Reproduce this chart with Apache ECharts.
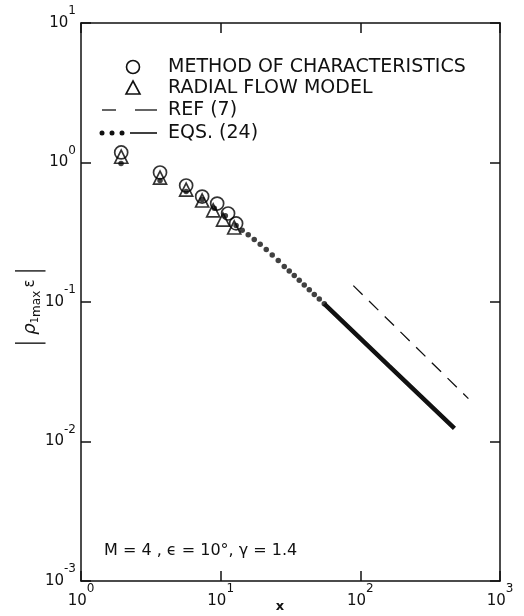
<!DOCTYPE html>
<html><head><meta charset="utf-8">
<script src="https://cdn.jsdelivr.net/npm/echarts@6/dist/echarts.min.js"></script>
<style>html,body{margin:0;padding:0;background:#fff}#c{width:524px;height:616px}</style>
</head><body><div id="c"></div>
<script>
// Method of characteristics (circles)
const circX = [1.94, 3.68, 5.66, 7.37, 9.44, 11.3, 12.9];
const circY = [1.18, 0.848, 0.684, 0.57, 0.508, 0.431, 0.366];
// Radial flow model (triangles)
const triX = [1.94, 3.68, 5.66, 7.37, 8.84, 10.4, 12.5];
const triY = [1.10, 0.78, 0.64, 0.534, 0.453, 0.39, 0.342];
// Eqs. (24) dotted part
const eqsDotX = [1.935, 3.68, 5.66, 7.37, 9.0, 10.8, 12.9, 14.26, 15.75, 17.39, 19.19, 21.2, 23.4, 25.84, 28.53, 30.98, 33.65, 36.53, 39.68, 43.1, 46.81, 50.83, 55.2];
const eqsDotY = [0.984, 0.743, 0.62, 0.543, 0.47, 0.415, 0.353, 0.327, 0.303, 0.28, 0.259, 0.238, 0.217, 0.198, 0.18, 0.167, 0.1546, 0.1431, 0.1323, 0.1225, 0.1133, 0.1049, 0.0971];
// Eqs. (24) solid part
const eqsLineX = [55.2, 161, 472];
const eqsLineY = [0.0971, 0.0347, 0.0124];
// Ref (7) dashed
const refX = [89.1, 594];
const refY = [0.131, 0.0203];
// axis ranges / ticks
const xMin = 1, xMax = 1000;
const yMin = 0.001, yMax = 10;

const zip = (a, b) => a.map((v, i) => [v, b[i]]);
const FONT = 'DejaVu Sans';
const supFmt = v => '{b|10}{s|' + Math.round(Math.log10(v)) + '}';
const richLbl = {
  b: {fontSize: 15, fontFamily: FONT, color: '#111'},
  s: {fontSize: 12, fontFamily: FONT, color: '#111', padding: [0, 0, 24, 0]}
};
const axCommon = {
  type: 'log', logBase: 10,
  axisLine: {show: true, lineStyle: {color: '#111', width: 1.5}},
  axisTick: {show: true, inside: true, length: 10, lineStyle: {color: '#111', width: 1.5}},
  minorTick: {show: false},
  splitLine: {show: false}
};

const chart = echarts.init(document.getElementById('c'), null, {renderer: 'canvas'});
chart.setOption({
  animation: false,
  backgroundColor: '#fff',
  textStyle: {fontFamily: FONT},
  grid: {left: 81, right: 24, top: 23, bottom: 35},
  xAxis: [
    Object.assign({}, axCommon, {min: xMin, max: xMax, position: 'bottom',
      axisLabel: {formatter: supFmt, rich: richLbl, margin: 2}}),
    Object.assign({}, axCommon, {min: xMin, max: xMax, position: 'top', axisLabel: {show: false}})
  ],
  yAxis: [
    Object.assign({}, axCommon, {min: yMin, max: yMax, position: 'left',
      axisLabel: {formatter: supFmt, rich: richLbl, margin: 5}}),
    Object.assign({}, axCommon, {min: yMin, max: yMax, position: 'right', axisLabel: {show: false}})
  ],
  series: [
    {type: 'line', data: zip(refX, refY), showSymbol: false, symbol: 'none',
     lineStyle: {color: '#111', width: 1.3, type: [13, 9]}, z: 2},
    {type: 'line', data: zip(eqsLineX, eqsLineY), showSymbol: false, symbol: 'none',
     lineStyle: {color: '#111', width: 4.5}, z: 2},
    {type: 'scatter', data: zip(eqsDotX, eqsDotY), symbol: 'circle', symbolSize: 5.5,
     itemStyle: {color: '#111'}, z: 3},
    {type: 'scatter', data: zip(triX, triY), symbol: 'triangle', symbolSize: 13,
     itemStyle: {color: 'rgba(0,0,0,0)', borderColor: '#000', borderWidth: 1.7}, z: 4},
    {type: 'scatter', data: zip(circX, circY), symbol: 'circle', symbolSize: 13,
     itemStyle: {color: 'rgba(0,0,0,0)', borderColor: '#000', borderWidth: 1.7}, z: 5}
  ],
  graphic: [
    // legend
    {type: 'circle', shape: {cx: 133, cy: 67, r: 6.5}, style: {fill: 'none', stroke: '#111', lineWidth: 1.6}},
    {type: 'polygon', shape: {points: [[133, 81], [140, 94], [126, 94]]}, style: {fill: 'none', stroke: '#111', lineWidth: 1.6}},
    {type: 'line', shape: {x1: 102, y1: 110, x2: 116, y2: 110}, style: {stroke: '#111', lineWidth: 1.3}},
    {type: 'line', shape: {x1: 135, y1: 110, x2: 157, y2: 110}, style: {stroke: '#111', lineWidth: 1.3}},
    {type: 'circle', shape: {cx: 102, cy: 133, r: 2.5}, style: {fill: '#111'}},
    {type: 'circle', shape: {cx: 112, cy: 133, r: 2.5}, style: {fill: '#111'}},
    {type: 'circle', shape: {cx: 122, cy: 133, r: 2.5}, style: {fill: '#111'}},
    {type: 'line', shape: {x1: 130, y1: 133, x2: 157, y2: 133}, style: {stroke: '#111', lineWidth: 1.6}},
    {type: 'text', x: 168, y: 67, style: {text: 'METHOD OF CHARACTERISTICS', font: '19px "DejaVu Sans"', fill: '#111', verticalAlign: 'middle'}},
    {type: 'text', x: 168, y: 88, style: {text: 'RADIAL FLOW MODEL', font: '19px "DejaVu Sans"', fill: '#111', verticalAlign: 'middle'}},
    {type: 'text', x: 168, y: 110, style: {text: 'REF (7)', font: '19px "DejaVu Sans"', fill: '#111', verticalAlign: 'middle'}},
    {type: 'text', x: 168, y: 133, style: {text: 'EQS. (24)', font: '19px "DejaVu Sans"', fill: '#111', verticalAlign: 'middle'}},
    // annotation
    {type: 'text', x: 104, y: 551, style: {text: 'M = 4 , ϵ = 10°, γ = 1.4', font: '16px "DejaVu Sans"', fill: '#111', verticalAlign: 'middle'}},
    // x axis name
    {type: 'text', x: 280, y: 607, style: {text: 'x', font: 'bold 13px "DejaVu Sans"', fill: '#111', align: 'center', verticalAlign: 'middle'}},
    // y axis name
    {type: 'text', x: 30, y: 307, rotation: Math.PI / 2, style: {
      text: '{bar||} {r|ρ}{sub|1}{sub2|max} {e|ε} {bar||}',
      align: 'center', verticalAlign: 'middle', fill: '#111',
      rich: {
        bar: {fontSize: 30, fontFamily: FONT, fontWeight: 'lighter', fill: '#111'},
        r: {fontSize: 18, fontFamily: FONT, fontStyle: 'italic', fill: '#111'},
        sub: {fontSize: 10, fontFamily: FONT, fill: '#111', padding: [10, 0, 0, 0]},
        sub2: {fontSize: 12, fontFamily: FONT, fill: '#111', padding: [14, 0, 0, 0]},
        e: {fontSize: 15, fontFamily: FONT, fill: '#111'}
      }}}
  ]
});
</script>
</body></html>
